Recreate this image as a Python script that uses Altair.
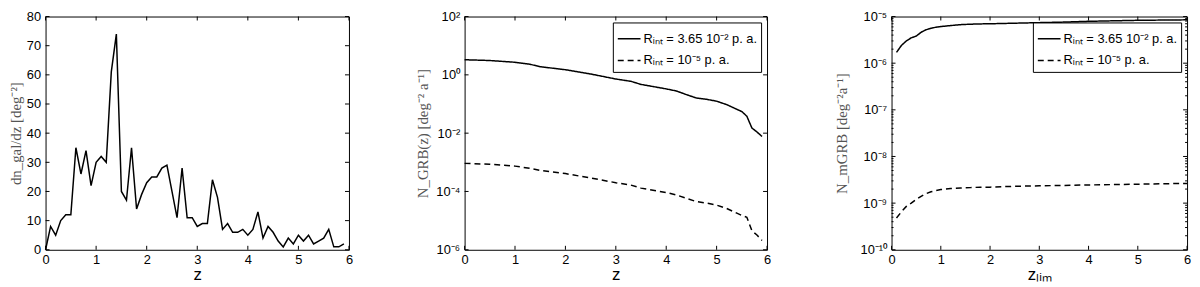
import altair as alt
import pandas as pd

# ---------- data ----------
z1 = [round(0.1 * i, 1) for i in range(60)]
dn_gal = [0, 8, 5, 10, 12, 12, 35, 26, 34, 22,
          30, 32, 30, 61, 74, 20, 17, 35, 14, 19,
          23, 25, 25, 28, 29, 20, 11, 28, 11, 11,
          8, 9, 9, 24, 18, 7, 9, 6, 6, 7,
          5, 7, 13, 4, 8, 6, 3, 1, 4, 2,
          5, 3, 5, 2, 3, 4, 7, 1, 1, 2]

z2 = [0, 0.5, 1.0, 1.3, 1.5, 2.0, 2.5, 3.0, 3.3, 3.5, 4.0, 4.2, 4.4, 4.6,
      4.8, 5.0, 5.2, 5.4, 5.5, 5.6, 5.7, 5.8, 5.9]
ngrb_hi = [3.3, 3.1, 2.7, 2.3, 1.9, 1.5, 1.07, 0.72, 0.6, 0.47, 0.33, 0.28,
           0.21, 0.16, 0.145, 0.125, 0.095, 0.066, 0.055, 0.038, 0.015, 0.011, 0.0077]
ngrb_lo = [9.2e-4, 8.6e-4, 7.4e-4, 6.2e-4, 5.3e-4, 4.1e-4, 2.9e-4, 2.0e-4, 1.65e-4,
           1.3e-4, 9.2e-5, 7.6e-5, 5.8e-5, 4.5e-5, 4.0e-5, 3.4e-5, 2.6e-5, 1.8e-5,
           1.5e-5, 1.3e-5, 4.5e-6, 3.2e-6, 2.1e-6]

z3 = [0.1, 0.2, 0.3, 0.4, 0.5, 0.6, 0.7, 0.8, 0.9, 1.0, 1.2, 1.4, 1.6, 1.8,
      2.0, 2.5, 3.0, 3.5, 4.0, 4.5, 5.0, 5.5, 6.0]
nm_hi = [1.7e-6, 2.4e-6, 3.0e-6, 3.5e-6, 3.8e-6, 4.6e-6, 5.2e-6, 5.6e-6, 5.9e-6,
         6.1e-6, 6.4e-6, 6.7e-6, 6.85e-6, 6.95e-6, 7.0e-6, 7.2e-6, 7.4e-6, 7.6e-6,
         7.9e-6, 8.1e-6, 8.3e-6, 8.4e-6, 8.5e-6]
nm_lo = [4.8e-10, 6.5e-10, 8.5e-10, 1.0e-9, 1.2e-9, 1.4e-9, 1.6e-9, 1.75e-9, 1.85e-9,
         1.95e-9, 2.05e-9, 2.1e-9, 2.15e-9, 2.2e-9, 2.2e-9, 2.3e-9, 2.35e-9, 2.4e-9,
         2.45e-9, 2.5e-9, 2.55e-9, 2.6e-9, 2.65e-9]

series_names = ["Rᵢₙₜ = 3.65 10⁻² p. a.", "Rᵢₙₜ = 10⁻⁵ p. a."]

x_ticks = [0, 1, 2, 3, 4, 5, 6]
y1_ticks = [0, 10, 20, 30, 40, 50, 60, 70, 80]
y2_ticks = [1e-6, 1e-4, 1e-2, 1e0, 1e2]
y3_ticks = [1e-10, 1e-9, 1e-8, 1e-7, 1e-6, 1e-5]
y3_minor = [m * 10.0 ** d for d in range(-10, -5) for m in range(2, 10)]

# ---------- style ----------
W1, W2, W3, H = 307, 306, 299, 236
SANS = "Liberation Sans"
SERIF = "Liberation Serif"
SUP = "['10⁻¹⁰','10⁻⁹','10⁻⁸','10⁻⁷','10⁻⁶','10⁻⁵','10⁻⁴','10⁻³','10⁻²','10⁻¹','10⁰','10¹','10²'][round(log(datum.value)/LN10)+10]"


def xaxis(title):
    return alt.Axis(values=x_ticks, title=title, labelFlush=False, titlePadding=0,
                    labelPadding=4, titleFont=SANS, titleFontSize=17,
                    titleFontWeight="normal")


def yaxis(title, values, expr=None, pad=3):
    kw = dict(values=values, title=title, titleFont=SERIF, titleFontSize=15,
              titleFontWeight="normal", titleColor="#555", titlePadding=pad)
    if expr:
        kw["labelExpr"] = expr
    return alt.Axis(**kw)


def inner_ticks(W, xscale, yscale, xax, yax, yvals, ylen=4, with_x=True):
    parts = []
    dx = pd.DataFrame({"v": x_ticks})
    dy = pd.DataFrame({"v": yvals})
    if with_x:
        parts.append(alt.Chart(dx).mark_rule(color="black", strokeWidth=1).encode(
            x=alt.X("v:Q", scale=xscale, axis=xax), y=alt.value(H - 4), y2=alt.value(H)))
        parts.append(alt.Chart(dx).mark_rule(color="black", strokeWidth=1).encode(
            x=alt.X("v:Q", scale=xscale, axis=xax), y=alt.value(0), y2=alt.value(4)))
    parts.append(alt.Chart(dy).mark_rule(color="black", strokeWidth=1).encode(
        y=alt.Y("v:Q", scale=yscale, axis=yax), x=alt.value(0), x2=alt.value(ylen)))
    parts.append(alt.Chart(dy).mark_rule(color="black", strokeWidth=1).encode(
        y=alt.Y("v:Q", scale=yscale, axis=yax), x=alt.value(W - ylen), x2=alt.value(W)))
    return parts


xs = alt.Scale(domain=[0, 6], nice=False)

# ---------- panel 1 ----------
ys1 = alt.Scale(domain=[0, 80], nice=False)
xa1 = xaxis("z")
ya1 = yaxis("dn_gal/dz  [deg⁻²]", y1_ticks)
df1 = pd.DataFrame({"z": z1, "v": dn_gal})
p1_line = alt.Chart(df1).mark_line(color="black", strokeWidth=1.5).encode(
    x=alt.X("z:Q", scale=xs, axis=xa1),
    y=alt.Y("v:Q", scale=ys1, axis=ya1))
p1 = alt.layer(p1_line, *inner_ticks(W1, xs, ys1, xa1, ya1, y1_ticks)).properties(width=W1, height=H)

# ---------- panel 2 ----------
ys2 = alt.Scale(type="log", domain=[1e-6, 1e2], nice=False)
xa2 = xaxis("z")
ya2 = yaxis("N_GRB(z)  [deg⁻² a⁻¹]", y2_ticks, SUP, pad=5)
dash_scale = alt.Scale(domain=series_names, range=[[1, 0], [6, 4]])
legend = alt.Legend(title=None, orient="top-right", offset=6, strokeColor="black",
                    fillColor="white", padding=4, symbolType="stroke",
                    symbolStrokeWidth=1.5, symbolStrokeColor="black", symbolSize=529,
                    labelFont=SANS, labelFontSize=13, labelColor="black",
                    labelOffset=2, rowPadding=2, cornerRadius=0)
df2 = pd.DataFrame({"z": z2 + z2, "v": ngrb_hi + ngrb_lo,
                    "s": [series_names[0]] * len(z2) + [series_names[1]] * len(z2)})
p2_line = alt.Chart(df2).mark_line(color="black", strokeWidth=1.5).encode(
    x=alt.X("z:Q", scale=xs, axis=xa2),
    y=alt.Y("v:Q", scale=ys2, axis=ya2),
    strokeDash=alt.StrokeDash("s:N", scale=dash_scale, legend=legend, sort=series_names))
p2 = alt.layer(p2_line, *inner_ticks(W2, xs, ys2, xa2, ya2, y2_ticks)).properties(width=W2, height=H)

# ---------- panel 3 ----------
ys3 = alt.Scale(type="log", domain=[1e-10, 1e-5], nice=False)
xa3 = xaxis("zₗᵢₘ")
ya3 = yaxis("N_mGRB  [deg⁻²a⁻¹]", y3_ticks, SUP, pad=10)
df3 = pd.DataFrame({"z": z3 + z3, "v": nm_hi + nm_lo,
                    "s": [series_names[0]] * len(z3) + [series_names[1]] * len(z3)})
p3_line = alt.Chart(df3).mark_line(color="black", strokeWidth=1.5).encode(
    x=alt.X("z:Q", scale=xs, axis=xa3),
    y=alt.Y("v:Q", scale=ys3, axis=ya3),
    strokeDash=alt.StrokeDash("s:N", scale=dash_scale, legend=legend, sort=series_names))
minor = inner_ticks(W3, xs, ys3, xa3, ya3, y3_minor, ylen=2, with_x=False)
p3 = alt.layer(p3_line, *inner_ticks(W3, xs, ys3, xa3, ya3, y3_ticks), *minor).properties(width=W3, height=H)

chart = alt.hconcat(p1, p2, p3, spacing=62).resolve_scale(
    strokeDash="independent").resolve_legend(strokeDash="independent").properties(
    padding={"left": 0, "top": 0, "right": 0, "bottom": 0}).configure_view(
    stroke="black", strokeWidth=1).configure_axis(
    domain=False, ticks=False, grid=False, labelFont=SANS, labelFontSize=13,
    labelColor="black", labelPadding=5)

chart.save("out.html", embed_options={"renderer": "svg", "actions": False})
